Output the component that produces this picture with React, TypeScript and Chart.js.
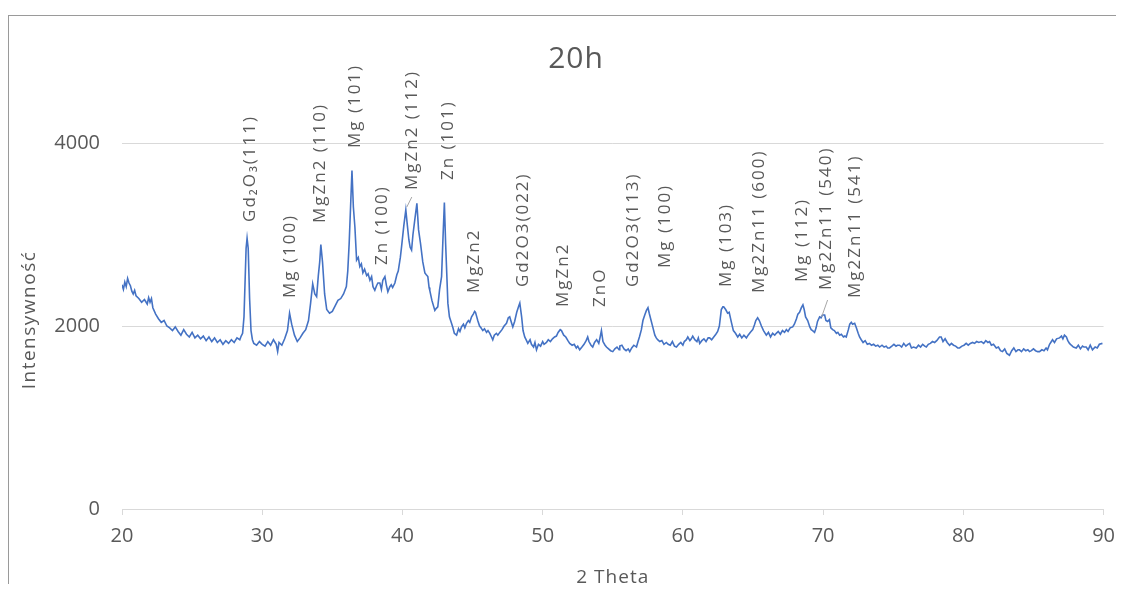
import React, { useEffect, useRef } from 'react';
import { Chart, registerables } from 'chart.js';

Chart.register(...registerables);

// 2θ values (degrees)
const thetas = [
  20.0, 20.1, 20.2, 20.3, 20.4, 20.5, 20.6, 20.7, 20.8, 20.9, 21.0, 21.2, 21.4, 21.6, 21.8, 21.9, 22.0, 22.1, 22.2, 22.4,
  22.6, 22.8, 23.0, 23.2, 23.4, 23.6, 23.8, 24.0, 24.2, 24.4, 24.6, 24.8, 25.0, 25.2, 25.4, 25.6, 25.8, 26.0, 26.2, 26.4,
  26.6, 26.8, 27.0, 27.2, 27.4, 27.6, 27.8, 28.0, 28.2, 28.4, 28.5, 28.6, 28.7, 28.8, 28.85, 28.92, 29.0, 29.1, 29.2, 29.3,
  29.4, 29.6, 29.8, 30.0, 30.2, 30.4, 30.6, 30.8, 31.0, 31.1, 31.2, 31.4, 31.6, 31.8, 31.95, 32.1, 32.3, 32.5, 32.7, 32.9,
  33.1, 33.3, 33.45, 33.6, 33.75, 33.88, 34.0, 34.1, 34.18, 34.3, 34.45, 34.6, 34.8, 35.0, 35.2, 35.4, 35.6, 35.8, 36.0, 36.1,
  36.2, 36.3, 36.4, 36.5, 36.61, 36.73, 36.85, 36.96, 37.07, 37.18, 37.3, 37.45, 37.55, 37.68, 37.8, 37.9, 38.03, 38.15, 38.25, 38.39,
  38.5, 38.6, 38.75, 38.85, 38.96, 39.1, 39.2, 39.3, 39.46, 39.6, 39.7, 39.85, 39.94, 40.1, 40.24, 40.35, 40.46, 40.55, 40.65, 40.75,
  40.88, 41.03, 41.15, 41.29, 41.45, 41.6, 41.7, 41.81, 41.9, 41.95, 42.1, 42.31, 42.4, 42.52, 42.65, 42.79, 42.9, 42.99, 43.08, 43.24,
  43.35, 43.5, 43.6, 43.7, 43.86, 44.0, 44.1, 44.21, 44.35, 44.45, 44.57, 44.7, 44.8, 44.93, 45.05, 45.15, 45.21, 45.3, 45.37, 45.5,
  45.6, 45.73, 45.85, 46.0, 46.1, 46.23, 46.35, 46.44, 46.55, 46.7, 46.8, 46.94, 47.1, 47.25, 47.42, 47.55, 47.65, 47.75, 47.87, 48.0,
  48.15, 48.3, 48.37, 48.5, 48.6, 48.72, 48.85, 48.94, 49.1, 49.2, 49.35, 49.45, 49.56, 49.7, 49.85, 50.0, 50.1, 50.27, 50.4, 50.55,
  50.7, 50.85, 50.98, 51.1, 51.25, 51.34, 51.5, 51.65, 51.8, 51.93, 52.1, 52.25, 52.4, 52.5, 52.64, 52.8, 52.95, 53.1, 53.21, 53.3,
  53.45, 53.57, 53.7, 53.85, 54.0, 54.1, 54.19, 54.3, 54.45, 54.55, 54.7, 54.85, 55.0, 55.15, 55.3, 55.45, 55.5, 55.65, 55.8, 55.95,
  56.1, 56.21, 56.35, 56.5, 56.69, 56.8, 56.9, 57.04, 57.15, 57.28, 57.4, 57.51, 57.6, 57.7, 57.85, 58.0, 58.1, 58.2, 58.35, 58.5,
  58.65, 58.82, 58.95, 59.1, 59.25, 59.4, 59.54, 59.7, 59.85, 60.0, 60.1, 60.25, 60.35, 60.5, 60.6, 60.7, 60.85, 61.0, 61.1, 61.2,
  61.35, 61.5, 61.65, 61.8, 61.91, 62.05, 62.2, 62.35, 62.48, 62.6, 62.74, 62.85, 62.91, 63.05, 63.19, 63.3, 63.46, 63.6, 63.75, 63.91,
  64.05, 64.2, 64.35, 64.53, 64.65, 64.8, 64.98, 65.1, 65.2, 65.33, 65.45, 65.6, 65.75, 65.95, 66.1, 66.25, 66.4, 66.55, 66.66, 66.8,
  66.95, 67.1, 67.25, 67.38, 67.5, 67.65, 67.83, 67.95, 68.1, 68.2, 68.32, 68.45, 68.56, 68.65, 68.75, 68.9, 69.05, 69.15, 69.25, 69.39,
  69.5, 69.6, 69.75, 69.85, 69.95, 70.11, 70.2, 70.32, 70.45, 70.55, 70.68, 70.8, 70.95, 71.05, 71.18, 71.3, 71.45, 71.55, 71.65, 71.8,
  71.9, 72.01, 72.1, 72.25, 72.37, 72.5, 72.6, 72.72, 72.85, 73.0, 73.15, 73.31, 73.45, 73.6, 73.75, 73.9, 74.03, 74.2, 74.35, 74.5,
  74.6, 74.74, 74.9, 75.05, 75.2, 75.3, 75.45, 75.6, 75.75, 75.9, 76.05, 76.17, 76.3, 76.45, 76.64, 76.8, 76.95, 77.1, 77.25, 77.36,
  77.5, 77.65, 77.8, 77.95, 78.1, 78.3, 78.42, 78.55, 78.7, 78.85, 79.02, 79.15, 79.3, 79.45, 79.6, 79.73, 79.9, 80.05, 80.2, 80.35,
  80.5, 80.66, 80.8, 80.95, 81.1, 81.28, 81.45, 81.6, 81.75, 81.87, 82.0, 82.15, 82.35, 82.5, 82.65, 82.79, 82.95, 83.1, 83.29, 83.45,
  83.6, 83.75, 83.9, 84.0, 84.15, 84.3, 84.45, 84.6, 84.72, 84.85, 85.0, 85.15, 85.3, 85.43, 85.6, 85.75, 85.9, 86.0, 86.15, 86.36,
  86.5, 86.65, 86.86, 87.0, 87.1, 87.21, 87.35, 87.45, 87.57, 87.7, 87.85, 88.05, 88.2, 88.35, 88.5, 88.6, 88.76, 88.9, 89.05, 89.21,
  89.4, 89.55, 89.7, 89.92,
];

// Intensity (counts)
const intensities = [
  2450, 2400, 2480, 2430, 2520, 2470, 2440, 2380, 2350, 2390, 2330, 2300, 2260, 2290, 2240, 2310, 2260, 2300, 2200, 2130,
  2080, 2040, 2060, 2000, 1980, 1950, 1990, 1940, 1900, 1960, 1910, 1880, 1930, 1870, 1900, 1860, 1890, 1840, 1880, 1830,
  1870, 1820, 1850, 1800, 1840, 1810, 1850, 1820, 1870, 1850, 1890, 1920, 2100, 2600, 2850, 2960, 2850, 2300, 1950, 1850,
  1810, 1790, 1830, 1800, 1780, 1830, 1790, 1850, 1800, 1720, 1820, 1790, 1860, 1950, 2140, 2020, 1900, 1830, 1870, 1920,
  1960, 2060, 2250, 2460, 2350, 2320, 2550, 2700, 2890, 2700, 2350, 2180, 2140, 2160, 2220, 2280, 2300, 2350, 2430, 2600,
  2900, 3300, 3700, 3300, 3080, 2720, 2750, 2650, 2680, 2580, 2620, 2550, 2570, 2500, 2540, 2430, 2390, 2440, 2470, 2470,
  2400, 2500, 2540, 2450, 2375, 2430, 2450, 2420, 2470, 2560, 2600, 2750, 2870, 3100, 3270, 3100, 2940, 2860, 2830, 3000,
  3160, 3340, 3050, 2900, 2700, 2580, 2560, 2540, 2420, 2390, 2280, 2170, 2190, 2210, 2400, 2540, 3000, 3350, 2900, 2250,
  2100, 2030, 1980, 1920, 1900, 1970, 1940, 1990, 2020, 1980, 2030, 2060, 2040, 2100, 2130, 2160, 2150, 2100, 2060, 2000,
  1980, 1950, 1970, 1930, 1950, 1920, 1880, 1850, 1900, 1920, 1900, 1930, 1960, 2000, 2030, 2090, 2100, 2050, 1990, 2050,
  2150, 2220, 2250, 2100, 1950, 1880, 1840, 1810, 1850, 1800, 1770, 1820, 1740, 1800, 1780, 1830, 1800, 1820, 1850, 1830,
  1860, 1880, 1890, 1930, 1960, 1950, 1900, 1880, 1840, 1810, 1790, 1800, 1760, 1780, 1740, 1770, 1800, 1840, 1880, 1830,
  1790, 1770, 1820, 1850, 1810, 1880, 1950, 1830, 1790, 1770, 1750, 1730, 1720, 1750, 1770, 1740, 1780, 1790, 1750, 1730,
  1750, 1720, 1760, 1790, 1770, 1830, 1880, 1960, 2060, 2120, 2170, 2200, 2140, 2080, 1990, 1900, 1870, 1850, 1830, 1840,
  1800, 1820, 1800, 1790, 1830, 1780, 1770, 1800, 1820, 1790, 1830, 1850, 1880, 1840, 1860, 1890, 1850, 1830, 1870, 1810,
  1840, 1860, 1830, 1870, 1870, 1850, 1880, 1910, 1940, 2000, 2180, 2210, 2210, 2180, 2140, 2150, 2040, 1950, 1920, 1880,
  1910, 1870, 1900, 1870, 1900, 1930, 1960, 2010, 2060, 2090, 2060, 2000, 1950, 1900, 1930, 1880, 1920, 1900, 1920, 1940,
  1910, 1950, 1930, 1960, 1940, 1980, 1990, 2020, 2080, 2130, 2150, 2200, 2230, 2180, 2100, 2060, 1990, 1960, 1950, 1930,
  1980, 2050, 2100, 2090, 2120, 2120, 2060, 2050, 2070, 1980, 1960, 1950, 1920, 1930, 1900, 1910, 1880, 1890, 1880, 1960,
  2020, 2040, 2020, 2030, 1980, 1920, 1880, 1850, 1820, 1840, 1800, 1810, 1790, 1800, 1780, 1790, 1770, 1790, 1770, 1780,
  1760, 1760, 1780, 1800, 1780, 1790, 1790, 1770, 1810, 1780, 1800, 1810, 1760, 1770, 1760, 1790, 1770, 1800, 1780, 1770,
  1800, 1810, 1830, 1820, 1840, 1880, 1880, 1830, 1860, 1820, 1790, 1810, 1790, 1780, 1760, 1760, 1780, 1790, 1810, 1790,
  1810, 1820, 1810, 1830, 1820, 1830, 1810, 1840, 1820, 1830, 1790, 1800, 1760, 1770, 1730, 1720, 1750, 1700, 1680, 1730,
  1760, 1720, 1740, 1740, 1720, 1750, 1730, 1740, 1720, 1730, 1750, 1730, 1720, 1720, 1740, 1730, 1760, 1740, 1800, 1850,
  1820, 1860, 1870, 1890, 1860, 1900, 1880, 1840, 1810, 1790, 1770, 1760, 1790, 1750, 1780, 1770, 1770, 1740, 1790, 1740,
  1770, 1760, 1800, 1810,
];

const xTickValues = [20, 30, 40, 50, 60, 70, 80, 90];
const yTickValues = [0, 2000, 4000];

const chartTitle = '20h';
const xAxisTitle = '2 Theta';
const yAxisTitle = 'Intensywność';

// Peak annotations: text, 2θ position, intensity where the label starts
const peakLabels = [
  'Gd₂O₃(111)', 'Mg (100)', 'MgZn2 (110)', 'Mg (101)', 'Zn (100)', 'MgZn2 (112)', 'Zn (101)', 'MgZn2',
  'Gd2O3(022)', 'MgZn2', 'ZnO', 'Gd2O3(113)', 'Mg (100)', 'Mg (103)', 'Mg2Zn11 (600)', 'Mg (112)',
  'Mg2Zn11 (540)', 'Mg2Zn11 (541)',
];
const peakLabelThetas = [
  29.12, 31.97, 34.11, 36.61, 38.53, 40.67, 43.24, 45.09,
  48.58, 51.43, 54.07, 56.42, 58.7, 63.12, 65.47, 68.54,
  70.25, 72.25,
];
const peakLabelIntensities = [
  3137, 2306, 3126, 3945, 2667, 3486, 3596, 2361,
  2426, 2208, 2208, 2426, 2634, 2426, 2361, 2481,
  2393, 2306,
];
// Leader lines: [theta1, intensity1, theta2, intensity2]
const leaderLines = [
  [40.31, 3300, 40.67, 3410],
  [69.89, 2098, 70.32, 2284],
];

const TEXT_COLOR = '#595959';
const FONT = '"Open Sans", "Noto Sans", sans-serif';

const annotationPlugin = {
  id: 'peakAnnotations',
  afterDraw(chart: any) {
    const { ctx, scales } = chart;
    const xs = scales.x;
    const ys = scales.y;
    ctx.save();
    ctx.fillStyle = TEXT_COLOR;

    // Title
    ctx.font = `30px ${FONT}`;
    (ctx as any).letterSpacing = '1px';
    ctx.textAlign = 'center';
    ctx.textBaseline = 'middle';
    ctx.fillText(chartTitle, 568, 51);

    // X axis title
    ctx.font = `19px ${FONT}`;
    (ctx as any).letterSpacing = '1px';
    ctx.fillText(xAxisTitle, (xs.left + xs.right) / 2, 570);

    // Y axis title
    ctx.save();
    ctx.translate(22, 312);
    ctx.rotate(-Math.PI / 2);
    (ctx as any).letterSpacing = '1.5px';
    ctx.fillText(yAxisTitle, 0, 0);
    ctx.restore();

    // Leader lines
    ctx.strokeStyle = '#A6A6A6';
    ctx.lineWidth = 1;
    leaderLines.forEach(([t1, i1, t2, i2]) => {
      ctx.beginPath();
      ctx.moveTo(xs.getPixelForValue(t1), ys.getPixelForValue(i1));
      ctx.lineTo(xs.getPixelForValue(t2), ys.getPixelForValue(i2));
      ctx.stroke();
    });

    // Peak labels
    ctx.font = `17px ${FONT}`;
    (ctx as any).letterSpacing = '2px';
    ctx.textAlign = 'left';
    ctx.textBaseline = 'middle';
    peakLabels.forEach((text, i) => {
      const px = xs.getPixelForValue(peakLabelThetas[i]);
      const py = ys.getPixelForValue(peakLabelIntensities[i]);
      ctx.save();
      ctx.translate(px, py);
      ctx.rotate(-Math.PI / 2);
      ctx.fillText(text, 0, 0);
      ctx.restore();
    });
    (ctx as any).letterSpacing = '0px';
    ctx.restore();
  },
};

export default function App() {
  const canvasRef = useRef<HTMLCanvasElement | null>(null);

  useEffect(() => {
    if (!canvasRef.current) return;
    const points = thetas.map((t, i) => ({ x: t, y: intensities[i] }));
    const chart = new Chart(canvasRef.current, {
      type: 'line',
      data: {
        datasets: [
          {
            label: '20h',
            data: points,
            borderColor: '#4472C4',
            borderWidth: 1.6,
            pointRadius: 0,
            fill: false,
            tension: 0,
          },
        ],
      },
      options: {
        animation: false,
        responsive: false,
        devicePixelRatio: 1,
        layout: { padding: { top: 43.5, right: 20, left: 0, bottom: 0 } },
        plugins: {
          legend: { display: false },
          tooltip: { enabled: false },
          title: { display: false },
        },
        scales: {
          x: {
            type: 'linear',
            min: 20,
            max: 90,
            afterFit: (s: any) => {
              s.height = 75;
            },
            afterBuildTicks: (s: any) => {
              s.ticks = xTickValues.map((v) => ({ value: v }));
            },
            ticks: {
              color: TEXT_COLOR,
              font: { family: FONT, size: 20 },
              padding: 9,
              maxRotation: 0,
              callback: (v: any) => String(v),
            },
            grid: {
              drawOnChartArea: false,
              drawTicks: true,
              tickLength: 6,
              color: '#D9D9D9',
            },
            border: { display: true, color: '#D9D9D9' },
          },
          y: {
            type: 'linear',
            min: 0,
            max: 5000,
            afterFit: (s: any) => {
              s.width = 114;
            },
            afterBuildTicks: (s: any) => {
              s.ticks = yTickValues.map((v) => ({ value: v }));
            },
            ticks: {
              color: TEXT_COLOR,
              font: { family: FONT, size: 20 },
              padding: 22,
              callback: (v: any) => String(v),
            },
            grid: {
              color: '#D9D9D9',
              drawTicks: false,
            },
            border: { display: false },
          },
        },
      },
      plugins: [annotationPlugin],
    });
    return () => chart.destroy();
  }, []);

  return (
    <div style={{ position: 'relative', width: 1116, height: 576 }}>
      <div
        style={{
          position: 'absolute',
          left: 0,
          top: 7,
          width: 1116,
          height: 569,
          boxSizing: 'border-box',
          borderLeft: '1px solid #9A9A9A',
          borderTop: '1px solid #9A9A9A',
        }}
      />
      <canvas
        ref={canvasRef}
        width={1116}
        height={576}
        style={{ position: 'absolute', left: 0, top: 0, width: 1116, height: 576 }}
      />
    </div>
  );
}
